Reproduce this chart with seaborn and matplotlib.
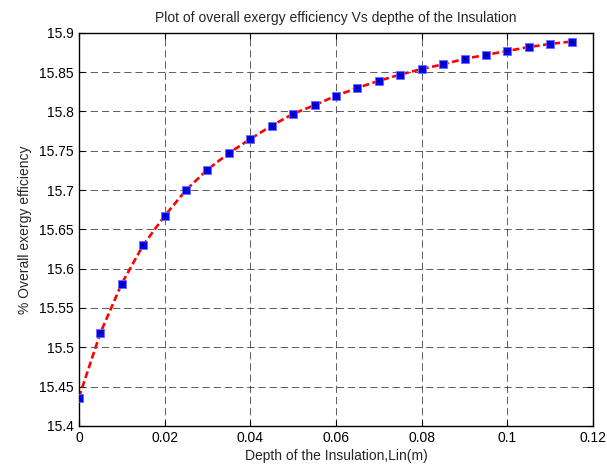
import pandas as pd
import matplotlib
matplotlib.use("Agg")
import matplotlib.pyplot as plt
import seaborn as sns

depth = [0.0, 0.005, 0.01, 0.015, 0.02, 0.025, 0.03, 0.035, 0.04, 0.045, 0.05, 0.055,
         0.06, 0.065, 0.07, 0.075, 0.08, 0.085, 0.09, 0.095, 0.1, 0.105, 0.11, 0.115]
efficiency = [15.436, 15.518, 15.581, 15.630, 15.667, 15.700, 15.726, 15.747, 15.765,
              15.782, 15.797, 15.808, 15.820, 15.830, 15.839, 15.847, 15.854, 15.860,
              15.867, 15.872, 15.877, 15.882, 15.886, 15.889]
xticks = [0, 0.02, 0.04, 0.06, 0.08, 0.1, 0.12]
xtick_labels = ['0', '0.02', '0.04', '0.06', '0.08', '0.1', '0.12']
yticks = [15.4, 15.45, 15.5, 15.55, 15.6, 15.65, 15.7, 15.75, 15.8, 15.85, 15.9]
ytick_labels = ['15.4', '15.45', '15.5', '15.55', '15.6', '15.65', '15.7', '15.75', '15.8', '15.85', '15.9']

df = pd.DataFrame({'depth': depth, 'eff': efficiency})

sns.set_style("ticks")
plt.rcParams['font.family'] = ['Liberation Sans', 'DejaVu Sans']

fig = plt.figure(figsize=(6.07, 4.70), dpi=100)
ax = fig.add_axes([0.130, 0.094, 0.847, 0.836])

# red dashed curve, then blue square markers with black centre dot
sns.lineplot(x='depth', y='eff', data=df, ax=ax, color='red', linestyle=(0, (2.6, 1.3)),
             linewidth=1.9, zorder=2)
sns.scatterplot(x='depth', y='eff', data=df, ax=ax, marker='s', color='blue',
                edgecolor='#6a6aff', linewidth=0.6, s=26, zorder=3)
sns.scatterplot(x='depth', y='eff', data=df, ax=ax, marker='s', color='black',
                edgecolor='black', linewidth=0, s=2.5, zorder=4)

ax.set_xlim(0, 0.12)
ax.set_ylim(15.4, 15.9)
ax.set_xticks(xticks)
ax.set_xticklabels(xtick_labels)
ax.set_yticks(yticks)
ax.set_yticklabels(ytick_labels)
ax.grid(True, color='#333333', linestyle=(0, (7.5, 4.0)), linewidth=0.7, alpha=0.8)
ax.tick_params(direction='in', length=4, labelsize=10, top=True, right=True,
               color='black', labelcolor='black')
for s in ax.spines.values():
    s.set_color('black')
    s.set_linewidth(1)

ax.set_title('Plot of overall exergy efficiency Vs depthe of the Insulation', fontsize=10, pad=8)
ax.set_xlabel('Depth of the Insulation,Lin(m)', fontsize=10, labelpad=3)
ax.set_ylabel('% Overall exergy efficiency', fontsize=10, labelpad=5)

plt.savefig('out.png', dpi=100)
